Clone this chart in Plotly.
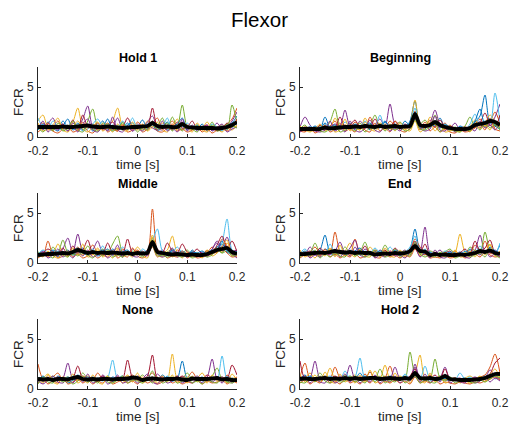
import numpy as np
import plotly.graph_objects as go

# ---------------- data ----------------
main_title = "Flexor"
panel_titles = ["Hold 1", "Beginning", "Middle", "End", "None", "Hold 2"]
x_tick_vals = [-0.2, -0.1, 0, 0.1, 0.2]
x_tick_text = ["-0.2", "-0.1", "0", "0.1", "0.2"]
y_tick_vals = [0, 5]
y_tick_text = ["0", "5"]
time = np.round(np.arange(-0.2, 0.2001, 0.01), 3)

hold1_trials = [
    [1.2,0.8,1.5,0.9,0.6,1.1,1.8,0.7,1.0,0.9, 1.3,0.6,1.0,1.6,0.8,0.7,1.1,0.9,1.4,0.8, 1.0,1.7,0.9,1.2,0.6,1.0,1.5,0.8,0.9,1.1, 0.7,1.0,0.8,1.3,0.6,0.9,1.0,0.7,1.2,1.4, 2.1],
    [0.9,1.4,0.7,1.0,1.6,0.8,0.9,1.2,0.6,1.5, 0.9,1.1,0.7,1.0,1.4,0.9,0.6,1.2,1.0,0.8, 1.5,1.0,0.7,1.3,1.9,0.8,1.0,1.6,0.9,0.7, 1.2,0.8,1.0,0.7,1.1,0.9,0.6,1.0,1.3,1.8, 2.9],
    [1.6,2.2,0.9,0.7,1.2,0.8,1.0,1.5,2.9,1.0, 0.8,1.3,0.7,0.9,1.1,1.6,2.9,1.0,0.7,1.2, 0.9,0.8,1.6,1.0,0.7,1.4,0.9,1.1,1.8,0.8, 1.0,0.7,1.2,0.9,1.5,0.8,1.0,1.2,0.9,1.0, 1.1],
    [1.0,0.7,1.3,1.9,0.8,1.0,0.6,1.4,1.0,1.8, 3.1,1.0,0.8,1.2,0.7,1.0,1.9,0.8,1.1,0.6, 1.3,1.0,1.5,2.1,0.9,0.7,1.2,0.8,1.0,1.5, 0.7,1.0,0.8,1.1,0.6,0.9,1.4,0.8,1.0,1.6, 2.5],
    [0.8,1.1,1.0,0.6,1.4,1.0,0.8,0.9,1.2,0.7, 1.6,2.8,1.0,0.8,1.3,0.9,0.7,1.5,0.8,1.0, 1.2,0.7,1.0,1.4,1.1,1.9,0.8,2.0,1.0,3.2, 1.0,0.8,1.1,0.9,0.7,1.2,0.8,1.0,0.7,3.2, 1.4],
    [1.9,1.0,0.8,1.6,1.0,0.7,1.2,0.9,1.0,0.6, 0.8,1.3,1.8,1.0,0.7,1.2,0.9,1.6,1.0,1.9, 0.8,1.0,1.3,1.5,0.8,1.0,1.9,0.7,1.0,0.8, 1.4,0.9,0.7,1.0,0.8,1.3,1.0,0.6,1.1,0.9, 1.6],
    [1.1,0.9,1.2,0.8,1.0,1.3,0.9,1.7,0.8,2.2, 1.0,0.9,1.4,0.7,1.0,1.5,0.8,1.0,1.9,1.0, 0.8,1.2,1.0,2.9,1.0,0.9,1.1,0.7,1.5,0.9, 1.0,1.6,0.8,1.0,1.2,0.7,1.0,0.9,1.4,1.0, 1.8],
    [0.7,1.3,1.0,1.2,0.8,1.6,1.0,0.8,1.4,0.7, 1.1,0.9,1.2,1.0,1.8,0.8,1.0,0.7,1.2,1.4, 0.9,1.1,0.8,1.6,1.0,1.2,0.7,1.0,1.3,1.9, 0.8,1.0,1.2,0.8,1.0,0.7,0.9,1.1,0.8,1.2, 1.3],
    [0.5,0.9,1.4,0.6,0.4,0.8,1.2,0.5,0.7,1.1, 0.6,0.4,0.9,1.3,0.5,0.8,0.6,1.2,0.5,0.7, 1.1,0.5,0.8,1.6,0.6,0.5,0.9,1.3,0.6,0.8, 0.5,0.7,1.0,0.5,0.8,0.4,0.7,0.9,0.6,1.0, 1.7],
    [1.4,0.6,0.8,1.2,1.9,0.7,0.5,1.0,1.6,0.8, 0.5,1.0,1.5,0.6,0.9,0.5,1.3,0.7,0.6,1.5, 0.7,1.3,0.6,1.0,1.5,0.7,0.5,1.1,0.7,1.4, 0.9,0.5,1.4,0.7,0.5,1.0,0.8,0.5,0.9,0.7, 1.2],
    [0.8,1.6,0.5,0.9,0.7,1.3,0.6,1.1,0.5,1.3, 1.8,0.7,0.5,1.0,0.6,2.0,0.7,0.5,1.1,0.6, 0.9,0.6,1.2,0.9,0.7,1.6,0.6,0.9,0.5,1.8, 0.6,1.2,0.6,0.9,1.2,0.6,0.9,1.3,0.5,0.8, 1.0],
    [1.0,0.5,1.1,0.7,1.2,0.6,0.9,1.6,0.7,0.5, 1.2,0.8,0.6,1.4,1.1,0.6,0.9,1.4,0.8,1.1, 0.5,1.0,0.7,1.3,0.8,1.0,1.4,0.6,1.2,0.6, 1.1,0.8,0.5,1.1,0.7,1.5,0.6,0.8,1.3,1.1, 0.9],
]
hold1_mean = [1.0,1.0,1.0,1.0,1.0,1.05,1.0,1.0,1.05,1.1, 1.15,1.05,1.0,1.0,1.05,1.0,0.95,0.9,0.95,1.0,
              1.0,1.05,1.1,1.4,1.1,1.0,1.05,1.0,1.0,1.3, 1.0,0.95,0.9,0.9,0.9,0.9,0.85,0.9,1.0,1.2, 1.5]

beginning_trials = [
    [0.7,0.9,0.6,1.0,0.8,2.0,0.9,0.7,1.2,0.9, 1.4,0.8,1.0,1.3,0.7,1.1,0.9,1.5,1.0,0.8, 1.2,0.9,1.6,3.6,1.0,0.8,1.3,1.1,1.9,0.9, 0.7,0.8,1.0,0.6,0.9,1.5,2.1,4.2,1.4,1.2, 1.0],
    [0.9,0.6,0.8,1.0,0.7,0.9,1.1,1.6,0.8,1.2, 0.9,1.5,1.1,0.8,2.0,1.0,1.3,0.9,1.6,1.1, 0.8,1.2,1.0,2.6,1.4,1.0,1.7,1.2,1.0,1.4, 0.8,0.6,0.9,1.0,0.7,1.3,1.8,1.1,1.5,2.5, 1.3],
    [0.8,1.0,0.7,0.9,0.6,1.1,0.8,1.9,1.0,0.8, 1.3,1.0,0.7,1.9,1.0,0.8,1.4,1.1,0.9,1.2, 1.0,0.7,1.3,3.7,1.1,0.9,2.0,1.3,1.0,0.8, 1.2,0.7,0.9,0.8,1.1,1.7,1.0,1.4,2.2,1.6, 1.1],
    [1.0,2.0,1.2,0.8,0.9,0.7,1.0,1.3,1.1,2.7, 1.0,0.8,1.6,1.0,0.9,1.2,1.8,1.0,3.3,1.2, 0.9,1.3,1.0,2.4,1.2,1.0,1.4,2.7,1.3,1.1, 0.9,1.4,0.7,0.8,1.0,1.2,0.9,1.6,1.1,2.0, 3.3],
    [0.6,0.8,1.0,0.7,1.1,0.9,1.5,2.8,1.0,1.2, 0.8,1.1,1.4,0.9,1.2,2.2,1.0,1.3,0.8,1.1, 1.5,1.0,0.8,2.0,1.3,1.7,1.0,2.2,1.1,0.9, 0.7,1.0,0.8,1.1,2.0,1.0,1.4,1.0,1.8,1.3, 0.9],
    [0.9,0.7,1.1,0.8,1.0,1.3,0.8,1.0,0.9,1.5, 1.1,0.9,1.0,1.6,1.1,1.0,2.2,0.9,1.2,1.0, 0.8,1.1,1.4,2.9,1.0,1.2,0.9,1.4,1.0,1.3, 0.9,0.8,1.0,0.7,1.3,2.3,1.2,1.6,1.3,4.4, 1.5],
    [0.8,1.0,0.9,0.6,1.2,0.8,1.0,0.9,2.0,1.0, 1.2,1.7,0.9,1.1,1.0,1.8,1.0,1.2,1.0,1.6, 1.1,0.9,1.0,1.8,1.1,0.9,1.3,1.0,1.7,1.0, 1.1,0.9,0.6,1.0,0.8,1.0,1.4,2.4,1.2,1.0, 2.2],
    [0.6,0.9,0.8,1.1,0.9,1.4,1.0,1.2,0.8,1.0, 0.9,1.3,1.0,1.2,1.4,0.9,1.1,1.6,1.0,1.3, 0.9,1.6,1.1,1.9,0.9,1.1,1.0,1.6,0.9,1.2, 1.0,0.7,1.1,0.9,1.0,1.6,2.8,1.2,1.7,1.1, 0.8],
    [0.6,0.5,0.9,0.4,0.7,1.2,0.5,0.8,1.4,0.6, 0.8,0.5,1.2,0.7,0.5,1.4,0.6,0.9,0.5,1.6, 0.7,0.5,0.9,2.0,0.7,1.5,0.6,1.0,0.5,0.8, 0.5,0.4,0.7,0.5,0.6,0.9,1.3,0.7,1.9,0.8, 0.6],
    [1.1,0.7,0.5,0.8,1.3,0.6,0.9,0.5,0.7,1.8, 0.6,1.0,0.7,1.5,0.8,0.6,1.0,0.7,1.3,0.6, 1.4,0.8,0.6,1.6,0.5,0.9,1.5,0.6,1.2,0.5, 0.6,0.7,0.5,0.9,0.5,1.4,0.8,1.2,0.7,1.6, 1.0],
    [0.5,0.8,1.0,0.6,0.5,0.7,1.6,0.6,0.9,0.5, 1.6,0.7,0.5,0.9,1.7,0.7,0.5,1.2,0.6,0.9, 0.6,1.2,0.8,2.5,0.9,0.6,0.8,2.1,0.7,0.6, 1.0,0.5,0.8,0.6,0.9,0.6,1.6,0.9,1.2,0.7, 1.4],
    [0.8,1.2,0.6,0.9,0.6,0.5,0.8,1.1,0.5,0.7, 0.9,0.6,1.1,0.5,0.9,0.8,1.3,0.6,1.0,0.7, 1.0,0.6,0.8,1.7,0.8,0.7,1.0,1.3,0.5,1.1, 0.8,0.6,0.5,0.8,0.6,1.1,0.7,1.5,0.9,1.2, 0.7],
]
beginning_mean = [0.8,0.8,0.8,0.8,0.8,0.95,0.85,0.9,0.95,1.0, 1.0,1.05,1.0,1.1,1.05,1.0,1.1,1.0,1.05,1.1,
                  1.0,1.05,1.1,2.3,1.2,1.1,1.2,1.5,1.2,1.0, 0.9,0.8,0.8,0.8,0.9,1.2,1.3,1.4,1.6,1.5, 1.2]

middle_trials = [
    [0.7,1.0,0.8,1.2,0.6,0.9,1.3,0.8,1.0,1.5, 0.9,1.1,0.7,1.0,1.4,0.8,1.0,0.6,1.2,0.9, 1.0,0.8,1.1,2.3,1.0,0.7,0.9,1.2,0.8,1.0, 0.7,1.3,0.8,0.6,1.0,1.2,1.6,1.9,1.3,0.9, 1.1],
    [0.9,0.7,2.2,0.9,1.0,0.8,1.2,1.0,1.6,0.9, 1.1,1.8,1.0,0.8,1.2,1.0,0.7,1.4,0.9,1.0, 1.3,0.9,1.0,5.4,1.2,0.8,1.0,0.7,1.3,1.0, 0.8,1.2,0.9,0.7,1.0,1.6,1.2,2.4,1.7,1.0, 0.8],
    [1.0,0.8,1.1,0.9,1.9,1.0,0.7,1.3,1.0,0.8, 1.2,0.9,1.3,1.0,0.8,1.1,1.5,1.0,1.2,0.9, 1.6,1.0,0.9,2.8,1.1,1.0,1.3,2.7,1.0,0.8, 1.1,0.7,1.0,0.9,1.3,1.0,1.4,1.1,2.0,1.2, 0.9],
    [0.8,1.2,0.9,1.0,0.7,1.4,2.5,1.0,2.9,1.1, 0.9,1.3,2.2,1.0,1.1,0.8,1.0,1.2,0.9,1.4, 1.0,1.2,0.8,2.0,1.0,1.3,0.9,1.0,1.1,0.7, 0.9,1.0,0.6,1.1,0.8,1.4,2.2,1.6,2.6,1.2, 1.3],
    [1.1,0.9,0.7,1.6,1.0,2.3,1.0,0.8,1.2,1.0, 1.7,1.0,0.9,1.4,1.0,1.9,2.7,1.0,0.8,1.2, 0.9,1.1,1.0,2.5,1.3,0.9,1.1,1.4,0.9,1.0, 1.3,0.8,1.0,0.7,0.9,1.1,1.5,1.0,1.2,0.8, 1.0],
    [0.9,1.3,1.0,0.8,1.2,0.9,1.1,1.0,0.9,1.2, 1.0,1.4,1.0,1.7,0.9,1.2,1.0,1.6,1.0,1.1, 0.8,1.4,1.1,2.2,3.4,1.2,1.0,1.1,1.6,1.0, 0.9,1.2,0.8,1.0,1.1,1.3,1.0,2.0,4.4,1.3, 1.0],
    [0.8,1.0,1.4,1.1,0.9,1.5,0.8,1.7,1.0,1.3, 2.3,1.0,1.1,0.9,2.0,1.0,1.2,0.9,2.4,1.0, 1.2,0.9,1.3,2.0,1.4,1.0,2.0,1.2,1.0,1.9, 1.1,1.0,1.4,0.9,1.2,1.0,1.8,2.7,1.4,2.2, 1.1],
    [1.0,0.7,0.9,1.3,1.0,1.1,0.9,1.2,1.5,1.0, 0.8,1.2,1.0,1.3,0.9,1.4,1.0,1.1,1.3,0.8, 1.1,1.0,1.2,1.8,1.0,1.1,0.8,1.3,1.0,1.2, 0.9,1.1,1.0,1.2,0.9,1.0,1.3,2.2,1.1,0.9, 1.2],
    [0.5,0.8,0.6,1.0,0.5,0.7,1.1,0.6,0.9,0.5, 0.7,0.9,0.5,0.8,0.6,1.2,0.5,0.8,0.6,1.5, 0.7,0.5,0.8,1.6,0.6,0.9,0.5,0.7,0.6,1.2, 0.5,0.8,0.5,0.6,0.7,0.9,1.1,1.4,1.0,0.6, 0.7],
    [0.9,0.6,1.2,0.7,0.5,1.0,0.6,1.5,0.8,1.9, 0.6,0.8,1.5,0.6,0.9,0.5,1.4,0.6,0.9,0.6, 1.2,0.7,0.5,2.6,0.8,0.6,1.1,0.6,0.9,0.5, 1.0,0.6,0.9,0.5,1.2,0.7,1.0,1.7,2.3,0.8, 0.6],
    [0.7,1.1,0.5,0.8,1.4,0.6,0.9,0.5,1.2,0.7, 1.3,0.6,0.8,1.1,0.5,0.9,1.8,0.6,1.1,0.7, 0.6,1.0,0.7,1.9,0.9,0.6,0.8,1.5,0.6,0.8, 0.6,0.9,0.7,1.0,0.6,1.4,2.0,1.2,1.5,0.9, 0.5],
    [0.6,0.9,0.8,0.5,1.0,0.8,0.6,1.0,0.7,1.1, 0.8,0.5,1.0,0.7,1.3,0.6,0.8,0.6,1.0,0.8, 0.9,0.6,1.1,1.7,0.7,0.8,0.6,0.9,0.7,0.6, 0.8,0.5,0.7,0.9,0.6,0.8,1.3,1.0,1.6,0.7, 0.9],
]
middle_mean = [0.8,0.85,0.9,0.9,0.95,1.0,0.95,1.1,1.3,1.15, 1.0,1.1,1.0,1.05,1.0,1.05,1.0,0.95,1.0,0.9,
               1.0,0.95,1.0,2.1,1.1,1.0,0.9,0.85,0.9,0.85, 0.8,0.85,0.8,0.8,0.9,1.1,1.3,1.4,1.5,1.1, 0.9]

end_trials = [
    [0.9,1.2,0.8,1.0,1.3,2.8,1.0,0.8,1.2,0.9, 1.1,0.8,1.3,1.0,0.9,1.2,0.7,1.0,0.9,1.1, 0.8,1.0,1.4,3.4,1.2,0.9,0.7,1.0,0.8,0.9, 0.7,1.0,0.8,0.9,1.4,1.0,1.2,0.9,1.3,1.0, 1.8],
    [1.0,0.8,1.1,1.6,1.0,1.2,0.9,3.1,1.2,1.0, 0.8,2.4,1.0,1.1,0.9,1.3,1.0,0.8,1.2,1.0, 1.1,0.9,1.3,2.4,1.6,1.0,0.8,1.1,0.7,1.0, 0.9,1.2,0.8,1.0,0.9,1.8,1.1,2.2,1.0,0.9, 1.0],
    [0.8,1.0,0.9,1.2,0.8,1.0,1.4,1.0,0.9,1.2, 2.0,1.0,1.1,0.8,1.6,1.0,0.9,1.2,1.0,0.8, 1.2,1.0,0.9,1.8,1.0,1.3,0.9,0.7,1.0,1.1, 0.8,1.0,2.9,1.1,0.9,1.3,1.0,1.5,1.8,1.0, 0.9],
    [1.2,0.9,1.6,1.0,0.8,1.1,1.0,1.2,2.1,1.0, 1.5,2.3,0.9,1.4,1.0,0.8,1.3,1.0,0.9,1.2, 1.0,1.3,0.8,2.0,1.1,3.6,1.0,0.9,1.3,0.8, 1.0,0.9,1.1,0.8,1.0,1.3,2.8,1.1,1.0,1.3, 0.8],
    [0.9,1.1,1.0,2.0,1.0,0.9,1.2,0.8,1.0,1.6, 1.0,0.9,1.1,2.1,1.0,1.3,0.9,1.8,1.0,0.9, 1.0,1.2,0.9,1.5,1.0,0.8,1.2,1.0,0.8,1.1, 1.4,0.9,1.0,0.8,1.6,1.2,1.0,3.1,1.3,1.0, 1.1],
    [1.0,1.4,0.9,1.0,1.2,0.8,1.9,1.0,1.1,0.9, 1.3,1.0,0.8,1.2,1.0,1.5,1.0,0.9,1.6,1.0, 0.9,1.1,1.6,2.7,1.0,1.4,0.9,1.0,0.8,1.2, 1.0,0.8,1.1,0.9,1.3,1.0,1.7,1.0,1.2,0.9, 2.0],
    [0.8,1.0,1.2,0.9,1.5,1.0,0.9,1.3,1.0,1.1, 0.9,1.2,1.0,1.7,0.9,1.1,1.0,1.3,0.8,1.5, 1.0,0.9,1.2,2.2,1.0,1.9,0.8,1.0,0.9,1.0, 1.2,0.8,1.0,1.4,1.0,2.2,1.2,1.5,2.3,1.0, 0.9],
    [0.9,0.8,1.0,1.2,0.9,1.4,1.1,1.0,1.3,0.8, 1.0,1.2,1.5,0.9,1.1,1.0,1.2,1.0,0.8,1.3, 1.1,1.0,0.9,1.6,1.3,1.0,1.1,0.8,1.0,0.9, 1.1,1.0,0.8,1.2,0.9,1.0,1.4,1.0,1.6,1.2, 1.0],
    [0.5,0.8,0.6,1.0,0.7,1.4,0.6,0.9,0.5,0.8, 0.6,1.0,0.5,0.7,1.2,0.6,0.5,0.9,0.6,0.8, 0.5,0.8,0.6,1.4,0.7,0.9,0.5,0.6,0.5,0.7, 0.5,0.6,0.8,0.5,0.7,0.9,0.6,1.1,0.8,0.6, 0.7],
    [1.3,0.6,0.9,0.5,1.1,0.7,1.5,0.6,1.8,0.7, 0.9,0.6,1.4,0.7,0.6,1.1,0.6,1.5,0.7,0.6, 1.3,0.6,0.9,1.9,0.8,1.2,0.6,0.8,0.6,1.0, 0.6,1.3,0.6,0.7,1.2,0.6,1.4,0.8,1.9,0.7, 1.2],
    [0.7,1.1,0.5,0.8,0.6,1.0,0.8,1.4,0.6,1.2, 0.7,1.6,0.8,0.6,1.0,0.5,0.8,0.6,1.2,0.7, 0.8,0.5,1.1,1.6,0.6,1.0,0.5,1.3,0.6,0.5, 0.8,0.6,1.0,0.6,0.5,1.1,0.8,1.3,0.6,0.9, 0.6],
    [0.6,0.9,0.7,1.3,0.5,0.9,0.6,1.0,0.7,0.6, 1.2,0.7,0.9,0.6,0.8,0.7,1.1,0.6,0.8,1.4, 0.6,0.9,0.7,2.1,0.9,0.6,0.8,0.6,1.1,0.6, 0.9,0.5,0.7,1.0,0.6,0.8,1.0,0.6,1.4,0.8, 0.5],
]
end_mean = [0.9,0.9,0.95,1.0,1.05,1.0,1.1,1.2,1.1,1.05, 1.1,1.0,1.05,1.0,1.0,0.85,0.9,0.95,0.9,1.0,
            0.95,1.0,1.2,1.7,1.2,1.15,0.8,0.9,0.8,0.85, 0.8,0.8,0.85,0.8,0.9,1.0,1.2,1.1,1.25,1.0, 0.9]

none_trials = [
    [1.2,0.8,1.0,0.7,1.3,1.0,0.6,0.9,1.4,1.0, 0.8,1.1,0.9,1.2,1.0,0.7,1.0,1.3,0.9,1.0, 1.1,0.8,1.0,1.2,0.9,1.4,1.0,0.8,1.0,2.8, 1.0,0.9,1.2,0.8,1.0,1.1,0.9,1.2,0.7,1.0, 0.9],
    [2.5,1.0,0.9,1.2,1.6,0.9,1.1,1.0,0.8,1.3, 1.0,0.9,1.6,1.0,1.1,0.8,1.2,1.0,1.1,1.4, 0.9,1.0,1.2,1.6,1.0,0.8,1.1,1.0,1.3,0.9, 1.1,1.7,1.0,0.9,1.2,1.0,1.1,0.8,1.4,1.0, 1.2],
    [0.9,1.1,1.5,1.0,0.8,1.2,1.0,1.1,0.9,1.0, 1.3,1.0,0.8,1.0,1.2,0.9,1.1,1.0,1.4,0.9, 1.0,1.2,0.9,1.1,1.0,1.3,0.9,3.5,1.0,1.2, 0.9,1.0,1.1,1.6,0.9,1.0,1.2,1.0,0.9,1.1, 1.0],
    [1.0,0.9,1.2,0.8,1.0,1.1,2.6,1.0,1.2,0.9, 1.0,1.2,0.8,1.4,1.0,1.1,0.9,1.2,1.0,0.8, 1.3,1.0,1.1,0.9,1.5,1.0,0.9,1.1,1.0,1.2, 0.8,1.0,1.3,1.0,1.2,3.0,1.0,0.9,1.1,1.0, 0.8],
    [1.1,1.0,0.8,1.3,0.9,1.0,1.2,0.9,1.0,1.6, 1.0,0.8,1.1,1.0,1.3,0.9,1.0,1.2,0.8,1.1, 1.0,1.4,1.0,1.8,0.9,1.1,1.0,1.2,0.9,1.0, 1.6,1.0,1.2,0.9,1.0,1.3,2.1,1.0,1.2,0.8, 1.0],
    [0.9,1.2,1.0,0.9,1.1,1.0,0.8,1.3,1.0,1.1, 0.9,1.2,1.0,0.8,1.1,2.9,1.0,1.1,0.9,1.2, 1.0,0.8,1.2,1.0,1.1,0.9,1.3,1.0,1.1,0.9, 1.0,1.2,0.9,1.1,1.0,1.2,0.9,3.3,1.0,1.1, 0.9],
    [1.0,0.8,1.1,1.0,1.2,0.9,1.0,1.1,2.3,1.0, 0.9,1.1,1.0,1.3,0.9,1.0,1.2,1.0,2.9,1.1, 0.9,1.0,1.3,3.4,1.0,1.2,0.9,1.1,1.0,1.3, 1.0,0.9,1.1,1.0,1.4,1.1,1.0,1.2,1.0,2.4, 1.4],
    [0.8,1.3,0.9,1.1,1.0,0.8,1.2,0.9,1.1,1.0, 1.2,0.9,1.1,1.0,0.8,1.2,1.0,0.9,1.1,1.0, 1.2,0.9,1.0,1.1,0.9,1.0,1.2,0.8,1.1,1.0, 0.9,1.1,1.0,1.2,0.8,1.0,1.1,0.9,1.2,1.0, 0.8],
    [0.6,1.0,0.5,0.8,0.6,1.1,0.5,0.7,1.0,0.6, 0.9,0.5,0.8,0.6,1.0,0.5,0.7,0.9,0.6,0.8, 0.5,0.9,0.6,0.8,0.5,0.7,1.0,0.6,0.8,0.5, 0.7,0.6,0.9,0.5,0.8,0.6,0.7,0.9,0.5,0.8, 0.6],
    [1.1,0.6,1.4,0.7,0.5,1.2,0.7,1.5,0.6,0.9, 0.6,1.4,0.7,0.5,1.3,0.6,1.0,0.6,1.3,0.7, 1.6,0.6,0.9,1.2,0.6,1.1,0.7,1.4,0.6,1.0, 0.6,1.3,0.7,1.0,0.6,1.4,0.8,1.1,0.6,1.5, 0.8],
    [0.8,0.5,0.9,1.3,0.7,0.6,1.0,0.6,1.2,0.7, 1.5,0.6,0.9,1.2,0.5,0.8,1.4,0.6,0.8,1.1, 0.6,1.0,1.5,0.7,0.5,1.0,0.6,0.8,1.3,0.6, 0.9,0.6,1.0,0.6,1.1,0.7,1.0,0.6,1.2,0.6, 1.0],
    [0.5,1.2,0.7,0.6,1.0,0.7,0.9,0.5,0.8,1.3, 0.7,0.9,0.6,1.1,0.7,0.6,0.9,1.3,0.6,0.9, 0.8,0.6,1.0,0.6,1.2,0.6,0.8,1.0,0.6,0.8, 1.2,0.6,0.8,0.5,0.9,0.7,0.6,1.0,0.7,0.6, 0.9],
]
none_mean = [1.0,0.95,1.0,0.9,1.0,1.0,0.95,1.1,1.2,1.0, 0.95,1.0,0.95,1.0,1.0,0.95,1.0,1.0,1.05,1.15,
             1.1,0.9,1.0,1.05,1.0,0.95,1.0,1.0,1.05,0.95, 0.9,1.05,1.0,1.0,1.0,1.05,1.1,0.95,1.0,0.9, 0.9]

hold2_trials = [
    [1.0,1.4,0.9,1.1,1.0,1.3,0.8,1.2,1.0,0.9, 1.3,1.0,1.6,0.9,1.2,1.0,1.1,0.8,1.3,1.0, 1.2,0.9,1.1,1.8,1.0,1.2,0.9,1.0,1.3,1.0, 0.8,1.1,0.9,0.8,1.0,0.9,1.1,1.3,1.0,1.6, 1.4],
    [1.2,2.6,1.0,1.1,0.9,1.3,1.0,2.2,1.1,1.0, 1.2,1.0,0.9,1.5,1.0,1.2,0.9,1.1,2.3,1.0, 1.1,1.0,1.2,2.0,1.1,1.0,1.4,1.0,1.2,0.9, 1.0,1.1,0.9,1.0,0.8,1.0,1.2,1.4,2.2,3.5, 1.6],
    [0.9,1.1,1.6,1.0,1.2,1.0,2.1,1.0,1.2,0.9, 1.1,1.4,1.0,1.2,1.0,1.8,1.0,2.4,1.0,1.1, 1.3,1.0,1.2,1.6,3.4,1.0,1.2,1.0,1.3,1.0, 1.1,0.9,1.0,1.1,1.3,1.0,0.9,1.2,1.0,1.4, 1.1],
    [1.3,1.0,1.1,2.8,1.0,1.2,0.9,1.0,1.3,1.0, 2.4,1.0,1.2,1.0,0.9,1.3,1.0,1.1,1.0,2.2, 1.0,1.2,0.9,2.5,1.0,1.1,1.3,1.0,1.1,2.2, 0.9,1.0,1.1,0.8,1.0,1.2,1.0,1.1,1.9,1.3, 1.0],
    [1.0,1.2,0.9,1.0,1.6,1.0,1.1,0.9,1.0,1.4, 1.0,1.2,1.0,0.9,1.2,1.0,2.0,1.0,1.1,1.0, 1.2,1.0,3.7,1.4,1.0,1.1,1.0,3.0,1.1,1.0, 1.2,0.9,1.0,1.0,1.1,0.9,1.2,1.0,1.1,1.5, 1.3],
    [1.1,1.0,1.2,0.9,1.0,1.1,1.3,1.0,0.9,1.8, 1.0,1.2,3.1,1.0,1.1,0.9,1.2,1.0,1.3,1.0, 0.9,1.5,1.0,1.2,1.0,2.3,1.0,1.2,0.9,1.1, 1.0,0.9,1.6,1.0,1.2,0.9,1.0,1.1,1.4,1.0, 1.2],
    [2.8,1.0,1.1,0.9,1.2,1.0,1.0,1.3,1.0,1.1, 0.9,1.0,1.2,1.0,1.7,1.0,1.1,1.0,1.2,0.9, 1.1,1.0,1.3,2.0,1.0,1.2,1.0,1.4,1.0,2.0, 1.0,1.1,0.9,1.0,1.0,1.1,1.0,1.2,1.5,2.6, 3.1],
    [0.9,1.0,1.3,1.0,1.1,0.9,1.2,1.0,1.1,1.0, 1.2,0.9,1.0,1.3,1.0,1.1,0.9,1.2,1.0,1.1, 1.0,1.3,1.0,1.5,1.1,1.0,1.2,1.0,0.9,1.1, 1.0,0.9,1.0,1.1,0.9,1.0,1.1,1.0,1.2,1.3, 1.5],
    [0.6,0.9,0.5,0.8,0.6,1.1,0.6,0.8,0.5,1.0, 0.6,0.8,0.5,0.9,0.6,1.0,0.5,0.8,0.6,0.9, 0.6,0.8,0.5,1.2,0.6,0.8,0.6,0.9,0.5,0.7, 0.6,0.5,0.7,0.6,0.5,0.7,0.6,0.8,1.0,1.2, 0.9],
    [1.5,0.7,0.9,1.4,0.6,1.7,0.8,0.6,1.5,0.7, 1.0,0.6,1.4,0.7,1.9,0.6,0.9,1.3,0.6,1.6, 0.8,1.3,0.6,1.5,0.9,0.6,1.6,0.7,1.2,0.6, 0.8,1.1,0.6,0.8,0.6,0.9,1.3,0.7,1.4,2.0, 1.1],
    [0.8,1.3,0.6,1.0,0.7,0.6,1.2,0.6,0.9,1.5, 0.7,1.1,0.6,1.0,0.7,1.4,0.6,1.0,0.7,1.3, 0.6,1.0,0.8,2.2,0.7,1.5,0.6,1.1,0.7,1.5, 0.6,0.9,0.7,0.6,1.0,0.6,0.8,1.2,0.7,1.1, 0.8],
    [0.7,0.6,1.1,0.7,1.3,0.8,0.6,1.0,0.7,0.8, 1.3,0.7,0.9,0.6,1.1,0.7,1.3,0.6,0.9,0.7, 1.2,0.6,1.0,1.3,0.6,0.9,0.7,0.6,1.0,0.8, 1.1,0.6,0.8,1.0,0.7,0.6,0.9,0.7,1.0,1.3, 1.1],
]
hold2_mean = [1.0,1.05,1.0,1.0,1.05,1.1,1.0,1.05,1.0,1.1, 1.0,1.1,1.0,1.05,1.1,1.1,1.0,1.05,1.1,1.05,
              1.0,1.1,1.05,1.6,1.1,1.05,1.1,1.0,1.05,1.3, 1.0,0.95,0.9,0.9,0.9,0.95,1.0,1.1,1.3,1.5, 1.5]

panels_trials = [hold1_trials, beginning_trials, middle_trials, end_trials, none_trials, hold2_trials]
panels_mean = [hold1_mean, beginning_mean, middle_mean, end_mean, none_mean, hold2_mean]

# ---------------- styling / layout ----------------
W, H = 510, 424
trial_colors = ["#0072BD", "#D95319", "#EDB120", "#7E2F8E", "#77AC30", "#4DBEEE", "#A2142F"]
FONT = "Liberation Sans, Arial, Helvetica, sans-serif"
AX = "#262626"

col_px = [(38, 237), (300, 500)]
row_px = [(67, 137), (193, 263), (319, 389)]   # (top, bottom) in pixels

fig = go.Figure()
annotations = []

for k in range(6):
    r, c = divmod(k, 2)
    ax_id = "" if k == 0 else str(k + 1)
    xref = "x" + ax_id
    yref = "y" + ax_id
    for j, tr in enumerate(panels_trials[k]):
        fig.add_trace(go.Scatter(
            x=time[:len(tr)], y=tr, mode="lines", xaxis=xref, yaxis=yref,
            line=dict(color=trial_colors[j % 7], width=1.0, shape="spline", smoothing=0.8),
            showlegend=False, hoverinfo="skip"))
    m = panels_mean[k]
    fig.add_trace(go.Scatter(
        x=time[:len(m)], y=m, mode="lines", xaxis=xref, yaxis=yref,
        line=dict(color="black", width=3.8, shape="spline", smoothing=0.6),
        showlegend=False, hoverinfo="skip"))

    x0, x1 = col_px[c]
    top, bot = row_px[r]
    xd = [x0 / W, x1 / W]
    yd = [1 - bot / H, 1 - top / H]
    common = dict(showline=True, linecolor=AX, linewidth=0.8, ticks="inside", ticklen=3,
                  tickcolor=AX, tickwidth=0.8, showgrid=False, zeroline=False,
                  automargin=False,
                  tickfont=dict(family=FONT, size=12, color=AX), mirror=False)
    fig.layout["xaxis" + ax_id] = dict(domain=xd, range=[-0.2, 0.2], anchor=yref,
                                       tickvals=x_tick_vals, ticktext=x_tick_text,
                                       ticklabelstandoff=3, **common)
    fig.layout["yaxis" + ax_id] = dict(domain=yd, range=[0, 7], anchor=xref,
                                       tickvals=y_tick_vals, ticktext=y_tick_text,
                                       ticklabelstandoff=1, **common)

    cx = (x0 + x1) / 2 / W
    annotations.append(dict(text="<b>" + panel_titles[k] + "</b>", x=cx, y=1 - (top - 9) / H,
                            xref="paper", yref="paper", showarrow=False, xanchor="center",
                            yanchor="middle", font=dict(family=FONT, size=12.5, color="black")))
    annotations.append(dict(text="time [s]", x=cx, y=1 - (bot + 27) / H,
                            xref="paper", yref="paper", showarrow=False, xanchor="center",
                            yanchor="middle", font=dict(family=FONT, size=13.5, color=AX)))
    annotations.append(dict(text="FCR", x=(x0 - 20) / W, y=1 - (top + bot) / 2 / H,
                            xref="paper", yref="paper", showarrow=False, xanchor="center",
                            yanchor="middle", textangle=-90,
                            font=dict(family=FONT, size=13.5, color=AX)))

annotations.append(dict(text=main_title, x=259 / W, y=1 - 20 / H, xref="paper", yref="paper",
                        showarrow=False, xanchor="center", yanchor="middle",
                        font=dict(family=FONT, size=20.5, color="black")))

fig.update_layout(width=W, height=H, margin=dict(l=0, r=0, t=0, b=0, autoexpand=False),
                  paper_bgcolor="white", plot_bgcolor="white",
                  annotations=annotations, showlegend=False)

fig.write_html("out.html", config={"displayModeBar": False},
               post_script="document.body.style.margin='0';document.body.style.overflow='hidden';")
